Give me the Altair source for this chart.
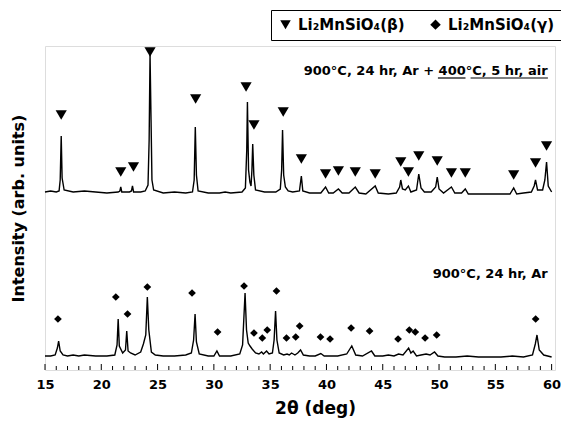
import altair as alt
import pandas as pd

# ---- data (2theta in deg, intensity in arb. units) ----
top_x = [15.0, 15.5, 16.0, 16.25, 16.35, 16.44, 16.52, 16.7, 17.5, 18.5, 19.5, 20.5, 21.5, 21.65, 21.73, 21.82,
         22.5, 22.68, 22.77, 22.87, 23.5, 23.9, 24.15, 24.25, 24.33, 24.42, 24.5, 24.65, 25.5, 26.5, 27.5, 28.1,
         28.25, 28.35, 28.45, 28.6, 29.5, 30.5, 31.0, 31.5, 32.5, 32.8, 32.92, 32.98, 33.08, 33.2, 33.3, 33.38,
         33.45, 33.55, 33.7, 34.5, 35.5, 35.9, 36.02, 36.10, 36.2, 36.35, 36.6, 37.0, 37.6, 37.77, 37.9, 38.5,
         39.5, 39.92, 40.2, 40.6, 41.06, 41.4, 42.0, 42.56, 42.9, 43.5, 44.33, 44.6, 45.5, 46.2, 46.5, 46.6,
         46.75, 47.0, 47.28, 47.5, 48.0, 48.2, 48.4, 48.7, 49.3, 49.7, 49.84, 50.0, 50.4, 51.1, 51.4, 52.0,
         52.33, 52.6, 53.5, 54.5, 55.5, 56.3, 56.63, 56.9, 57.5, 58.2, 58.45, 58.57, 58.75, 59.2, 59.4, 59.55,
         59.7, 60.0]
top_y = [178, 179, 178, 179, 190, 234, 192, 180, 178, 179, 178, 177, 178, 179, 183, 178,
         178, 179, 184, 178, 178, 179, 185, 230, 316, 250, 190, 180, 177, 178, 177, 178,
         190, 243, 195, 179, 177, 177, 178, 177, 178, 182, 220, 268, 200, 188, 184, 200,
         226, 195, 180, 178, 178, 181, 200, 240, 195, 183, 179, 178, 179, 194, 179, 177,
         177, 183, 177, 177, 181, 177, 177, 183, 177, 176, 184, 177, 176, 177, 183, 190,
         181, 180, 184, 178, 180, 196, 182, 178, 178, 183, 193, 181, 177, 183, 177, 177,
         181, 176, 176, 176, 176, 176, 182, 176, 177, 178, 184, 190, 180, 180, 190, 208,
         184, 178]

bot_x = [15.0, 15.5, 15.9, 16.1, 16.21, 16.35, 16.6, 17.0, 17.5, 18.0, 18.5, 19.5, 20.5, 21.2, 21.4, 21.5,
         21.6, 21.9, 22.15, 22.26, 22.38, 22.6, 23.0, 23.5, 23.74, 23.95, 24.09, 24.22, 24.45, 24.8, 25.5, 26.5,
         27.5, 28.0, 28.2, 28.33, 28.45, 28.7, 29.5, 30.0, 30.27, 30.5, 31.5, 32.3, 32.55, 32.77, 32.9, 33.05,
         33.21, 33.4, 33.7, 34.0, 34.24, 34.4, 34.68, 34.9, 35.2, 35.35, 35.48, 35.6, 35.8, 36.2, 36.5, 36.7,
         36.9, 37.2, 37.45, 37.7, 37.95, 38.5, 39.0, 39.5, 39.8, 40.4, 41.0, 41.8, 42.25, 42.6, 43.2, 44.0,
         44.3, 45.0, 45.5, 46.0, 46.4, 46.8, 47.3, 47.5, 47.7, 48.0, 48.4, 48.85, 49.2, 49.6, 49.9, 50.5,
         51.5, 52.5, 53.5, 54.5, 55.5, 56.5, 57.5, 58.3, 58.55, 58.7, 58.9, 59.3, 60.0]
bot_y = [14, 14, 15, 22, 29, 19, 15, 14, 15, 14, 15, 14, 14, 15, 25, 51,
         24, 17, 20, 39, 19, 17, 15, 18, 26, 35, 73, 40, 18, 15, 14, 14,
         15, 17, 30, 56, 28, 16, 14, 14, 19, 14, 14, 16, 25, 77, 40, 27,
         24, 21, 17, 16, 18, 16, 19, 16, 17, 30, 59, 30, 17, 15, 16, 15,
         17, 15, 17, 20, 15, 14, 14, 16.5, 14, 14, 14, 16, 24, 15, 14, 19,
         14, 14, 15, 14, 16, 15, 22, 17, 19, 14, 15, 16, 15, 18, 14, 13,
         13, 14, 13, 13, 13, 14, 13, 15, 26, 35, 20, 15, 13]

beta_x = [16.44, 21.73, 22.86, 24.33, 28.38, 32.86, 33.56, 36.16, 37.77, 39.92, 41.06, 42.56, 44.33,
          46.6, 47.28, 48.2, 49.84, 51.1, 52.33, 56.63, 58.57, 59.55]
beta_y = [255, 198, 203, 318, 271, 283, 245, 258, 211, 196, 199, 198, 196,
          208, 198, 214, 209, 197, 197, 195, 207, 224]

gamma_x = [16.15, 21.29, 22.33, 24.09, 28.06, 30.33, 32.68, 33.56, 34.3, 34.74, 35.56, 36.45, 37.27,
           37.62, 39.47, 40.32, 42.19, 43.83, 46.36, 47.36, 47.89, 48.76, 49.79, 58.58]
gamma_y = [51, 73, 56, 83, 77, 38, 84, 37, 32, 40, 79, 32, 33,
           44, 33, 31, 42, 39, 31, 40, 38, 32, 35, 51]

beta_label = "Li\u2082MnSiO\u2084(\u03b2)"
gamma_label = "Li\u2082MnSiO\u2084(\u03b3)"

x_ticks = [15, 20, 25, 30, 35, 40, 45, 50, 55, 60]
minor_ticks = list(range(15, 61))

notes_text = ["900°C, 24 hr, Ar + 400°C, 5 hr, air", "900°C, 24 hr, Ar"]
notes_x = [59.65, 59.65]
notes_y = [299, 96]

underline_x = [49.9, 52.8]
underline_x2 = [52.35, 59.67]
underline_y = [292, 292]

# ---- tables ----
lines = pd.concat([
    pd.DataFrame({"t": top_x, "I": top_y, "pattern": "top"}),
    pd.DataFrame({"t": bot_x, "I": bot_y, "pattern": "bottom"}),
])
beta_df = pd.DataFrame({"t": beta_x, "I": beta_y, "phase": beta_label})
gamma_df = pd.DataFrame({"t": gamma_x, "I": gamma_y, "phase": gamma_label})
ticks = pd.DataFrame({"t": minor_ticks})
notes = pd.DataFrame({"t": notes_x, "I": notes_y, "label": notes_text})
under = pd.DataFrame({"t": underline_x, "t2": underline_x2, "I": underline_y})

FONT = "DejaVu Sans"
xscale = alt.Scale(domain=[15, 60.3], nice=False, zero=False)
yscale = alt.Scale(domain=[0, 324], nice=False, zero=False)
phase_domain = [beta_label, gamma_label]

xenc = alt.X("t:Q", scale=xscale,
             axis=alt.Axis(values=x_ticks, title="2θ (deg)", grid=False, domain=False, ticks=False,
                           labelFlush=False,
                           labelFont=FONT, labelFontWeight="bold", labelFontSize=13, labelColor="black",
                           labelPadding=8, titleFont=FONT, titleFontWeight="bold", titleFontSize=17,
                           titleColor="black", titlePadding=9, titleX=270))
yenc = alt.Y("I:Q", scale=yscale,
             axis=alt.Axis(title="Intensity (arb. units)", labels=False, ticks=False, domain=False, grid=False,
                           titleFont=FONT, titleFontWeight="bold", titleFontSize=16, titleColor="black",
                           titlePadding=19))

line_layer = alt.Chart(lines).mark_line(color="black", strokeWidth=1.4).encode(
    x=xenc, y=yenc, detail="pattern:N", order="t:Q")

shape_enc = alt.Shape(
    "phase:N",
    scale=alt.Scale(domain=phase_domain, range=["triangle-down", "diamond"]),
    legend=alt.Legend(orient="none", legendX=226, legendY=-36, direction="horizontal",
                      title=None, strokeColor="black", padding=7,
                      labelFont=FONT, labelFontWeight="bold", labelFontSize=15,
                      labelColor="black", symbolSize=110, symbolFillColor="black",
                      symbolStrokeColor="black", columnPadding=22, labelOffset=5))

beta_layer = alt.Chart(beta_df).mark_point(filled=True, color="black", opacity=1, size=125).encode(
    x=alt.X("t:Q", scale=xscale), y=alt.Y("I:Q", scale=yscale), shape=shape_enc)
gamma_layer = alt.Chart(gamma_df).mark_point(filled=True, color="black", opacity=1, size=60).encode(
    x=alt.X("t:Q", scale=xscale), y=alt.Y("I:Q", scale=yscale), shape=shape_enc)

tick_layer = alt.Chart(ticks).transform_calculate(
    tl="datum.t % 5 == 0 ? 6 : 4", z="0"
).mark_rule(color="black", strokeWidth=1).encode(
    x=alt.X("t:Q", scale=xscale),
    y=alt.Y("z:Q", scale=yscale),
    y2="tl:Q",
)

text_layer = alt.Chart(notes).mark_text(font=FONT, fontWeight="bold", fontSize=13, align="right",
                                        baseline="middle", color="black").encode(
    x=alt.X("t:Q", scale=xscale), y=alt.Y("I:Q", scale=yscale), text="label:N")

under_layer = alt.Chart(under).mark_rule(color="black", strokeWidth=1.2).encode(
    x=alt.X("t:Q", scale=xscale), x2="t2:Q", y=alt.Y("I:Q", scale=yscale))

chart = alt.layer(line_layer, tick_layer, under_layer, text_layer, beta_layer, gamma_layer).properties(
    width=510, height=324, autosize="none",
    padding={"left": 37, "top": 38, "right": 6, "bottom": 49},
).configure_view(stroke="black", strokeWidth=1.5).configure(background="white")

chart.save("out.html", embed_options={"renderer": "svg", "actions": False})
